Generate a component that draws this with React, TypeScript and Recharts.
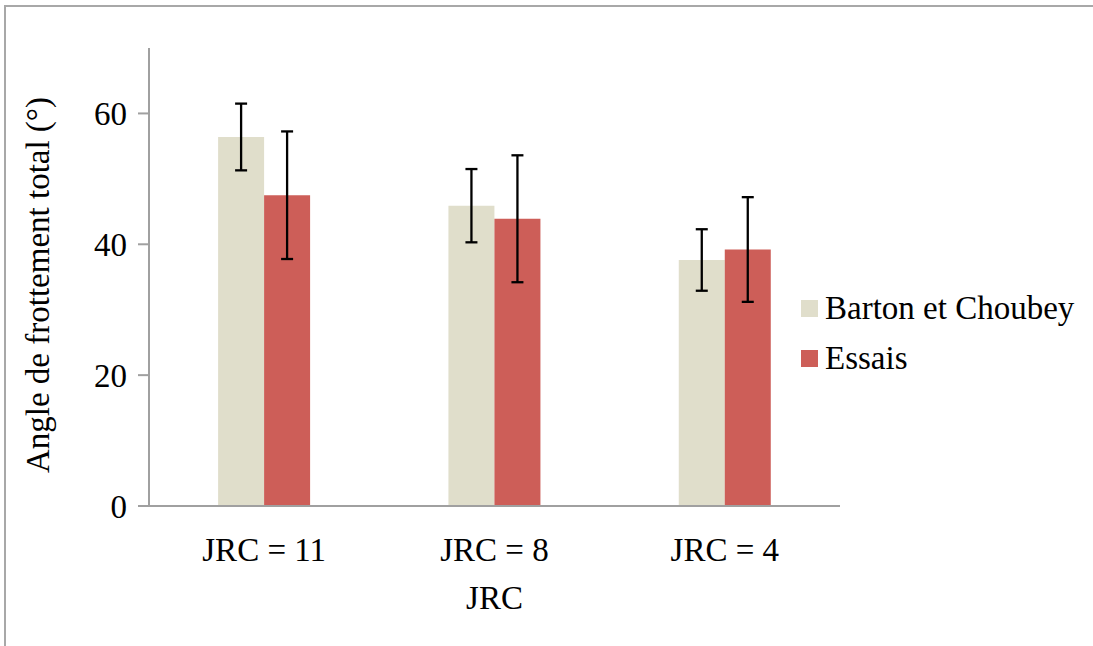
import React from 'react';
import { BarChart, Bar, XAxis, YAxis, ErrorBar, Legend } from 'recharts';

const categories = ['JRC = 11', 'JRC = 8', 'JRC = 4'];
const bartonValues = [56.4, 45.9, 37.6];
const bartonErrors = [5.1, 5.6, 4.7];
const essaisValues = [47.5, 43.9, 39.2];
const essaisErrors = [9.75, 9.7, 8.0];
const yTicks = [0, 20, 40, 60];

const data = categories.map((c, i) => ({
  name: c,
  barton: bartonValues[i],
  bartonErr: bartonErrors[i],
  essais: essaisValues[i],
  essaisErr: essaisErrors[i],
}));

const FONT = '"Liberation Serif", "Times New Roman", serif';
const AXIS = '#a0a0a0';
const C1 = '#E0DECB';
const C2 = '#CD5E58';
const FS = 33;

const legendItems = [
  { label: 'Barton et Choubey', color: C1 },
  { label: 'Essais', color: C2 },
];

const LegendContent = () => (
  <div style={{ fontFamily: FONT, fontSize: FS, color: '#000', lineHeight: 1 }}>
    {legendItems.map((it) => (
      <div key={it.label} style={{ display: 'flex', alignItems: 'center', height: 50 }}>
        <div style={{ width: 17, height: 17, background: it.color, marginRight: 7 }} />
        <span>{it.label}</span>
      </div>
    ))}
  </div>
);

export default function App() {
  return (
    <div style={{ position: 'absolute', left: 0, top: 0, width: 1093, height: 646, overflow: 'hidden', background: '#fff' }}>
      <div style={{ position: 'absolute', left: 4, top: 5, width: 1200, height: 800, border: '2px solid #a8a8a8' }} />
      <div style={{ position: 'absolute', left: 0, top: 0 }}>
        <BarChart
          width={1093}
          height={646}
          data={data}
          margin={{ top: 48, right: 253, left: 0, bottom: 0 }}
          barCategoryGap="30%"
          barGap={0}
        >
          <XAxis
            dataKey="name"
            height={140}
            tickLine={false}
            axisLine={{ stroke: AXIS, strokeWidth: 2 }}
            tick={{ fill: '#000', fontFamily: FONT, fontSize: FS }}
            tickMargin={26}
            label={{ value: 'JRC', position: 'insideTop', offset: 80, fill: '#000', fontFamily: FONT, fontSize: FS }}
          />
          <YAxis
            width={149}
            domain={[0, 70]}
            ticks={yTicks}
            interval={0}
            tickSize={11}
            tickLine={{ stroke: AXIS, strokeWidth: 2 }}
            axisLine={{ stroke: AXIS, strokeWidth: 2 }}
            tick={{ fill: '#000', fontFamily: FONT, fontSize: FS }}
            tickMargin={11}
            label={{
              content: ({ viewBox }: any) => (
                <text
                  x={38}
                  y={viewBox.y + viewBox.height / 2 + 8}
                  transform={`rotate(-90, 38, ${viewBox.y + viewBox.height / 2 + 8})`}
                  textAnchor="middle"
                  dominantBaseline="central"
                  fontFamily={FONT}
                  fontSize={FS}
                  fill="#000"
                >
                  Angle de frottement total (°)
                </text>
              ),
            }}
          />
          <Legend
            layout="vertical"
            align="center"
            verticalAlign="middle"
            wrapperStyle={{ left: 801, top: 283, width: 292 }}
            content={<LegendContent />}
          />
          <Bar dataKey="barton" name="Barton et Choubey" fill={C1} isAnimationActive={false}>
            <ErrorBar dataKey="bartonErr" width={6} stroke="#000" strokeWidth={2.3} direction="y" />
          </Bar>
          <Bar dataKey="essais" name="Essais" fill={C2} isAnimationActive={false}>
            <ErrorBar dataKey="essaisErr" width={6} stroke="#000" strokeWidth={2.3} direction="y" />
          </Bar>
        </BarChart>
      </div>
    </div>
  );
}
